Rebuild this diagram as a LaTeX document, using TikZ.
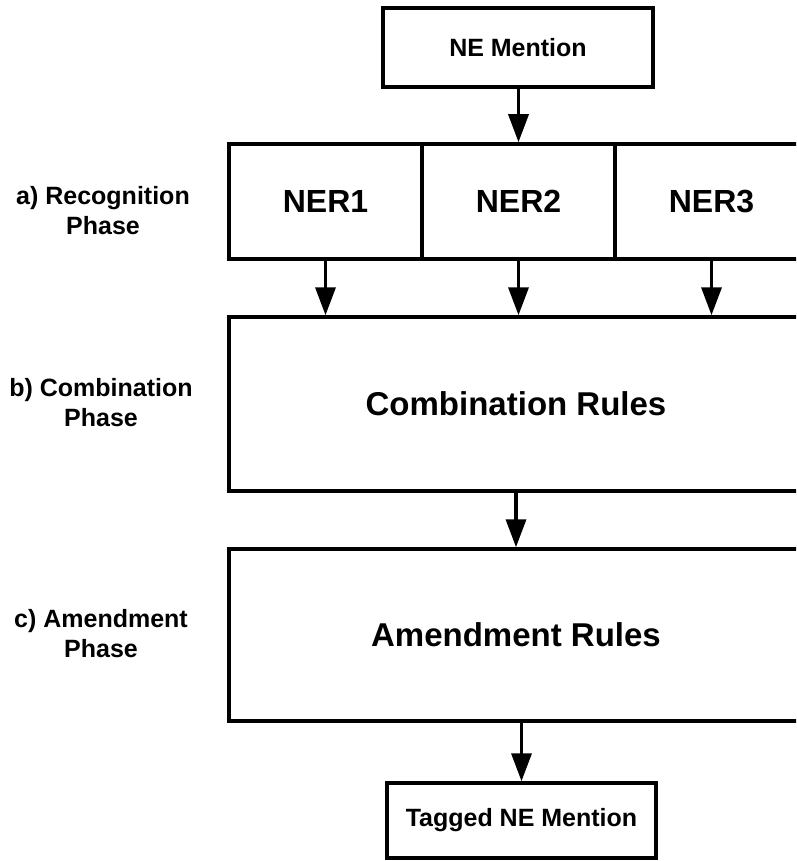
\documentclass[tikz,border=0pt]{standalone}
\usepackage{fontspec}
\setmainfont{Liberation Sans}
\usetikzlibrary{arrows.meta}
\begin{document}
\begin{tikzpicture}[x=1pt,y=-1pt,
  box/.style={draw, line width=3.5pt, inner sep=0pt, align=center},
  small/.style={font=\bfseries\fontsize{25}{30}\selectfont},
  big/.style={font=\bfseries\fontsize{32}{38}\selectfont},
  large/.style={font=\bfseries\fontsize{33}{40}\selectfont},
  flow/.style={line width=3.5pt, -{Triangle[length=28pt,width=20pt]}},
  phase/.style={align=center, font=\bfseries\fontsize{25}{30}\selectfont}]
\useasboundingbox (0,0) rectangle (796,861);
\clip (0,0) rectangle (796,861);

% input and output
\node[box, small, minimum width=270pt, minimum height=79pt] (ne) at (518,47.5) {NE Mention};
\node[box, small, minimum width=269pt, minimum height=75pt] (tagged) at (521.5,820.5) {Tagged NE Mention};

% recognisers
\node[box, big, minimum width=193pt, minimum height=115pt] (ner1) at (325.5,201.5) {NER1};
\node[box, big, minimum width=193pt, minimum height=115pt] (ner2) at (518.5,201.5) {NER2};
\node[box, big, minimum width=193pt, minimum height=115pt] (ner3) at (711.5,201.5) {NER3};

% rule stages
\node[box, large, minimum width=574pt, minimum height=174pt] (comb) at (516,404) {Combination Rules};
\node[box, large, minimum width=574pt, minimum height=172pt] (amend) at (516,635) {Amendment Rules};

% phase labels
\node[phase] (pa) at (103,211) {a) Recognition\\Phase};
\node[phase] (pb) at (101,403) {b) Combination\\Phase};
\node[phase] (pc) at (101,634) {c) Amendment\\Phase};

% flow
\draw[flow] (ne.south -| ner2.north) -- (ner2.north);
\draw[flow] (ner1.south) -- (ner1.south |- comb.north);
\draw[flow] (ner2.south) -- (ner2.south |- comb.north);
\draw[flow] (ner3.south) -- (ner3.south |- comb.north);
\draw[flow] (comb.south) -- (amend.north);
\draw[flow] (amend.south -| tagged.north) -- (tagged.north);
\end{tikzpicture}
\end{document}
